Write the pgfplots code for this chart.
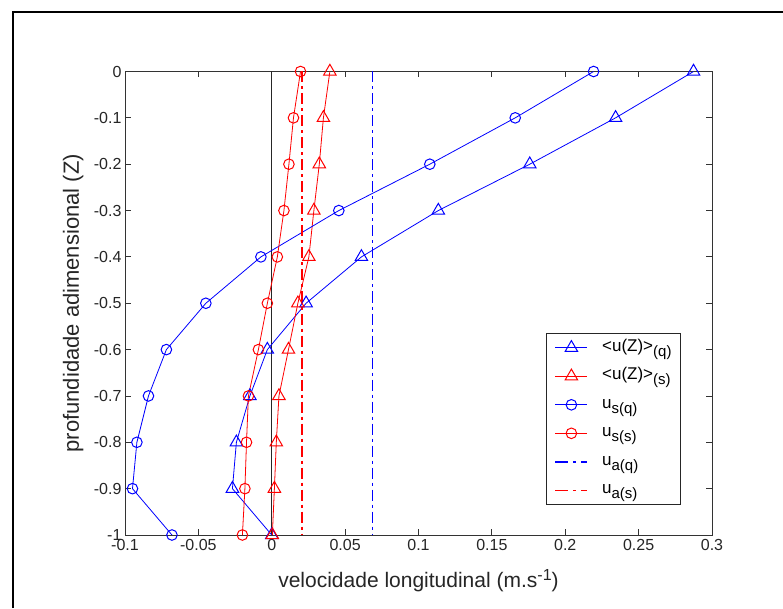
\documentclass[border=0pt]{standalone}
\usepackage{fontspec}
\setmainfont{Liberation Sans}
\usepackage{pgfplots}
\pgfplotsset{compat=1.18}
\definecolor{mred}{rgb}{1,0,0}
\definecolor{mblue}{rgb}{0,0,1}
\newcommand\sub[1]{\raisebox{-5pt}{\fontsize{15}{15}\selectfont #1}}
\begin{document}
\begin{tikzpicture}
\path[use as bounding box] (0pt,0pt) rectangle (783pt,608pt);
\fill[white] (0pt,0pt) rectangle (783pt,608pt);
\draw[line width=2.5pt] (13pt,0pt) -- (13pt,596pt) -- (783pt,596pt);
\begin{axis}[
  at={(125pt,73pt)}, anchor=south west, scale only axis,
  width=587pt, height=463.5pt,
  xmin=-0.1, xmax=0.3, ymin=-1, ymax=0,
  xtick={-0.1,-0.05,0,0.05,0.1,0.15,0.2,0.25,0.3},
  xticklabels={-0.1,-0.05,0,0.05,0.1,0.15,0.2,0.25,0.3},
  ytick={-1,-0.9,-0.8,-0.7,-0.6,-0.5,-0.4,-0.3,-0.2,-0.1,0},
  yticklabels={-1,-0.9,-0.8,-0.7,-0.6,-0.5,-0.4,-0.3,-0.2,-0.1,0},
  tick align=inside, major tick length=6pt,
  tick style={black!80, line width=0.8pt},
  axis line style={black!80, line width=0.8pt},
  ticklabel style={font=\fontsize{16}{18}\selectfont, text=black!85},
  xticklabel style={yshift=-1pt},
  xlabel={velocidade longitudinal (m.s\raisebox{7pt}{\fontsize{16}{16}\selectfont -1})},
  ylabel={profundidade adimensional (Z)},
  xlabel style={at={(axis description cs:0.5,-0.1143)}, anchor=base, font=\fontsize{21}{24}\selectfont, text=black!85},
  ylabel style={at={(axis description cs:-0.0784,0.5)}, anchor=base, font=\fontsize{22}{24}\selectfont, text=black!85},
  legend style={at={(0.947,0.436)}, anchor=north east, draw=black!85, line width=0.8pt,
    font=\fontsize{17}{19}\selectfont, cells={anchor=west}, row sep=5.5pt, column sep=13pt,
    inner xsep=8pt, inner ysep=3pt, nodes={inner sep=1pt, text height=14pt, text depth=7pt}},
  legend image code/.code={\draw[mark repeat=2,mark phase=2] plot coordinates {(0pt,0pt) (16pt,0pt) (32pt,0pt)};},
]
\addplot[forget plot, black!85, line width=1pt] coordinates {(0,0) (0,-1)};
\addplot[color=mblue, line width=0.8pt, mark=triangle, mark size=7.2pt, mark options={line width=1pt}] coordinates {
(0.2874,0) (0.2343,-0.1) (0.1758,-0.2) (0.1135,-0.3) (0.0611,-0.4) (0.0234,-0.5)
(-0.0030,-0.6) (-0.0149,-0.7) (-0.0241,-0.8) (-0.0268,-0.9) (0.0000,-1.0)};
\addlegendentry{<u(Z)>\sub{(q)}}
\addplot[color=mred, line width=0.8pt, mark=triangle, mark size=7.2pt, mark options={line width=1pt}] coordinates {
(0.0396,0) (0.0352,-0.1) (0.0324,-0.2) (0.0287,-0.3) (0.0253,-0.4) (0.0178,-0.5)
(0.0114,-0.6) (0.0049,-0.7) (0.0031,-0.8) (0.0018,-0.9) (0.0004,-1.0)};
\addlegendentry{<u(Z)>\sub{(s)}}
\addplot[color=mblue, line width=0.8pt, mark=o, mark size=5.3pt, mark options={line width=1pt}] coordinates {
(0.2193,0) (0.1659,-0.1) (0.1077,-0.2) (0.0457,-0.3) (-0.0074,-0.4) (-0.0449,-0.5)
(-0.0718,-0.6) (-0.0840,-0.7) (-0.0919,-0.8) (-0.0949,-0.9) (-0.0680,-1.0)};
\addlegendentry{u\sub{s(q)}}
\addplot[color=mred, line width=0.8pt, mark=o, mark size=5.3pt, mark options={line width=1pt}] coordinates {
(0.0196,0) (0.0148,-0.1) (0.0117,-0.2) (0.0083,-0.3) (0.0038,-0.4) (-0.0030,-0.5)
(-0.0091,-0.6) (-0.0159,-0.7) (-0.0172,-0.8) (-0.0183,-0.9) (-0.0200,-1.0)};
\addlegendentry{u\sub{s(s)}}
\addplot[color=mblue, draw=mblue, mark=none, line width=1.5pt, dash pattern=on 11pt off 4pt on 3pt off 4pt,
  legend image code/.code={\draw[draw=mblue, line width=1.5pt, dash pattern=on 13pt off 5pt on 3pt off 5pt] (0pt,0pt) -- (32pt,0pt);}]
  coordinates {(0.0685,0) (0.0685,-1)};
\addlegendentry{u\sub{a(q)}}
\addplot[color=mred, draw=mred, mark=none, line width=1.5pt, dash pattern=on 11pt off 4pt on 3pt off 4pt,
  legend image code/.code={\draw[draw=mred, line width=1.5pt, dash pattern=on 13pt off 5pt on 3pt off 5pt] (0pt,0pt) -- (32pt,0pt);}]
  coordinates {(0.0205,0) (0.0205,-1)};
\addlegendentry{u\sub{a(s)}}
\end{axis}
\end{tikzpicture}
\end{document}
